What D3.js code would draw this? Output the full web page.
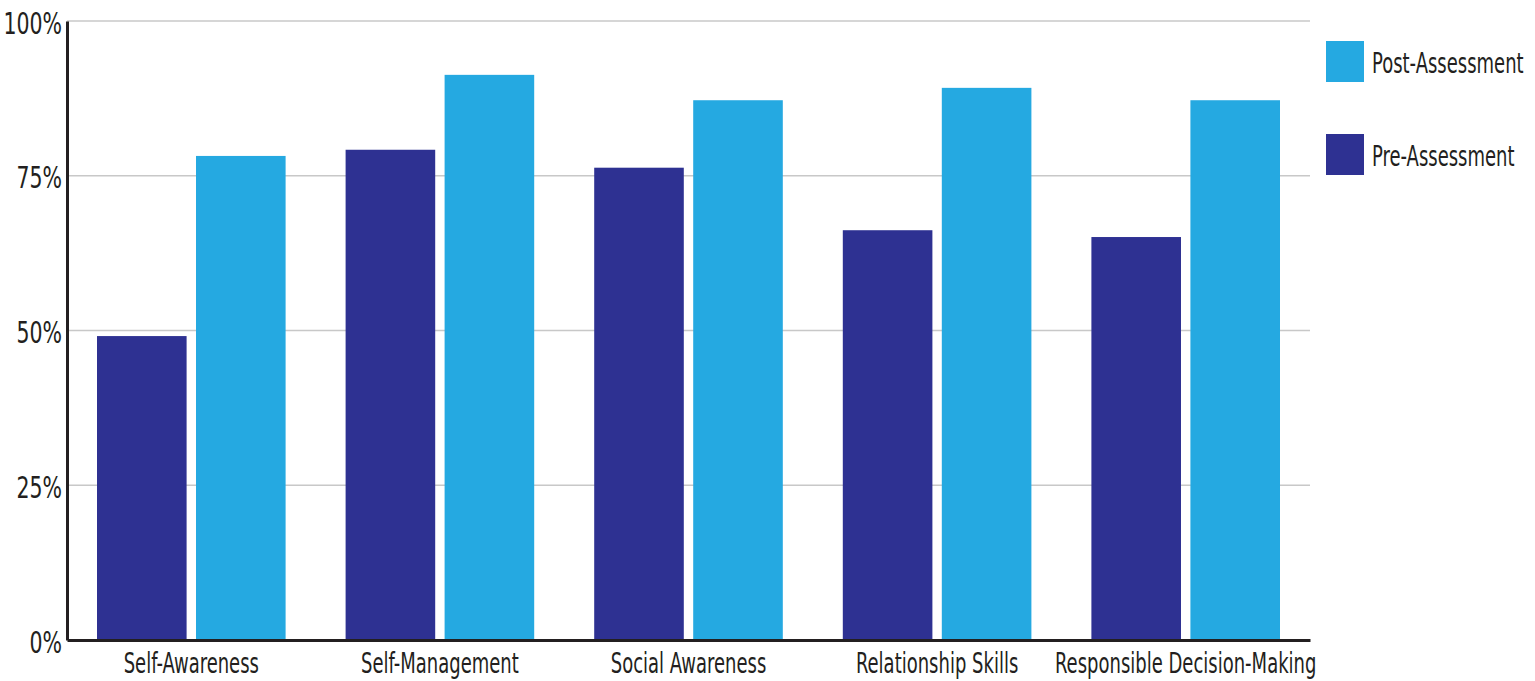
<!DOCTYPE html>
<html lang="en">
<head>
    <meta charset="UTF-8">
    <script src="https://d3js.org/d3.v7.min.js"></script>
    <title>Assessment chart</title>
    <style>
        body { margin: 0; background: white; }
        text { font-family: "DejaVu Sans Condensed", "DejaVu Sans", sans-serif; fill: #231f20; }
    </style>
</head>
<body>
    <script>
        // data
        const categories = ["Self-Awareness", "Self-Management", "Social Awareness", "Relationship Skills", "Responsible Decision-Making"]
        const series = ["Pre-Assessment", "Post-Assessment"]
        const preValues = [49.1, 79.2, 76.3, 66.2, 65.1]
        const postValues = [78.2, 91.3, 87.2, 89.2, 87.2]
        const yTicks = [0, 25, 50, 75, 100]
        const colors = { "Pre-Assessment": "#2e3192", "Post-Assessment": "#25a9e1" }

        const width = 1535, height = 681
        const margin = { top: 21, right: 225, bottom: 41, left: 67 }

        // squeeze text horizontally (scale about its own x) to mimic the condensed face
        function condense(sel, f) {
            sel.each(function() {
                const t = d3.select(this)
                const x0 = +t.attr("x") || 0
                t.attr("x", x0 / f).attr("transform", `scale(${f},1)`)
            })
        }

        const svg = d3.select("body").append("svg")
            .attr("width", width)
            .attr("height", height)

        const x = d3.scaleBand()
            .domain(categories)
            .range([margin.left, width - margin.right])

        const xInner = d3.scaleBand()
            .domain(series)
            .range([30, x.bandwidth() - 30])
            .paddingInner(0.095)

        const y = d3.scaleLinear()
            .domain([0, 100])
            .range([height - margin.bottom, margin.top])

        // gridlines
        svg.append("g")
            .selectAll("line")
            .data(yTicks.filter(d => d > 0))
            .join("line")
            .attr("x1", margin.left)
            .attr("x2", width - margin.right)
            .attr("y1", d => y(d))
            .attr("y2", d => y(d))
            .attr("stroke", "#c8c8c8")
            .attr("stroke-width", 1.5)

        // bars
        const rows = categories.map((c, i) => ({ cat: c, vals: [
            { s: "Pre-Assessment", v: preValues[i] },
            { s: "Post-Assessment", v: postValues[i] }
        ] }))

        svg.append("g")
            .selectAll("g")
            .data(rows)
            .join("g")
            .attr("transform", d => `translate(${x(d.cat)},0)`)
            .selectAll("rect")
            .data(d => d.vals)
            .join("rect")
            .attr("x", d => xInner(d.s))
            .attr("width", xInner.bandwidth())
            .attr("y", d => y(d.v))
            .attr("height", d => y(0) - y(d.v))
            .attr("fill", d => colors[d.s])

        // y axis
        const yAxis = svg.append("g")
            .attr("transform", `translate(${margin.left},0)`)
            .call(d3.axisLeft(y).tickValues(yTicks).tickFormat(d => d + "%").tickSize(0).tickPadding(5))
        yAxis.select(".domain").attr("stroke", "#231f20").attr("stroke-width", 3)
        yAxis.selectAll("text")
            .attr("font-size", 30).attr("dy", "0.4em")
            .style("font-family", "'DejaVu Sans Condensed', sans-serif")
            .attr("fill", "#231f20")
            .call(condense, 0.76)

        // x axis
        const xAxis = svg.append("g")
            .attr("transform", `translate(0,${height - margin.bottom})`)
            .call(d3.axisBottom(x).tickSize(0))
        xAxis.select(".domain").attr("stroke", "#231f20").attr("stroke-width", 3)
        xAxis.selectAll("text")
            .attr("font-size", 29).attr("y", 33).attr("dy", 0)
            .style("font-family", "'DejaVu Sans Condensed', sans-serif")
            .attr("fill", "#231f20")
            .call(condense, 0.69)

        // legend
        const legend = svg.append("g")
            .selectAll("g")
            .data(["Post-Assessment", "Pre-Assessment"])
            .join("g")
            .attr("transform", (d, i) => `translate(1326,${41 + i * 93})`)
        legend.append("rect")
            .attr("width", 38)
            .attr("height", 41)
            .attr("fill", d => colors[d])
        legend.append("text")
            .attr("x", 46)
            .attr("y", 32)
            .attr("font-size", 29)
            .text(d => d)
            .call(condense, 0.69)
    </script>
</body>
</html>
